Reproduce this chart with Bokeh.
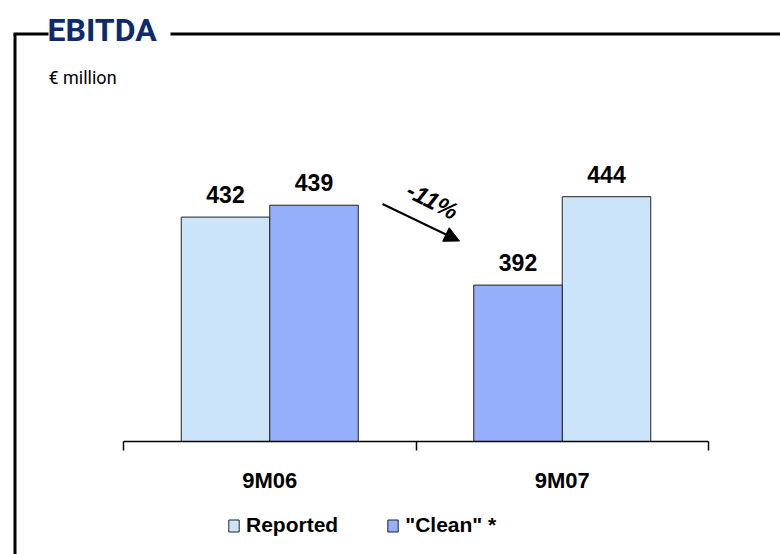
from bokeh.plotting import figure
from bokeh.models import (Range1d, LinearAxis, FixedTicker, ColumnDataSource, LabelSet,
                          Label, Arrow, NormalHead, Legend, LegendItem)
from bokeh.core.properties import value
from bokeh.embed import file_html
from bokeh.resources import INLINE

# ---------------- data ----------------
categories = ["9M06", "9M07"]
reported = [432, 444]
clean = [439, 392]
reported_side = [-1, 1]   # position of the bar inside its group (-1 left, +1 right)
clean_side = [1, -1]
series_names = ["Reported", '"Clean" *']
title_text = "EBITDA"
unit_text = "€ million"
change_text = "-11%"

# ---------------- layout ----------------
W, H = 780, 554
AX_L, AX_R, AX_Y = 123, 708, 441      # axis position in pixels
Y_MIN = 300
PX_PER_UNIT = 1.70
n = len(categories)
cat_px = (AX_R - AX_L) / n
BAR_W = 88.5 / cat_px
OFF = BAR_W / 2

FONT = "Liberation Sans"
HEAD_FONT = "Roboto"
LIGHT = "#cce4fa"
DARK = "#96affa"
NAVY = "#0d2b6b"


def X(px):
    return (px - AX_L) / cat_px


def Y(py):
    return Y_MIN + (AX_Y - py) / PX_PER_UNIT


p = figure(width=W, height=H, x_range=Range1d(X(0), X(W)), y_range=Range1d(Y(H), Y(0)),
           output_backend="svg", toolbar_location=None,
           x_axis_location=None, y_axis_location=None, min_border=0)
p.outline_line_color = None
p.xgrid.visible = False
p.ygrid.visible = False
p.background_fill_color = "white"
p.border_fill_color = "white"

src_rep = ColumnDataSource(dict(
    x=[i + 0.5 + s * OFF for i, s in enumerate(reported_side)],
    top=reported, txt=[str(v) for v in reported]))
src_cln = ColumnDataSource(dict(
    x=[i + 0.5 + s * OFF for i, s in enumerate(clean_side)],
    top=clean, txt=[str(v) for v in clean]))

r_rep = p.vbar(x="x", top="top", bottom=Y_MIN, width=BAR_W, source=src_rep,
               fill_color=LIGHT, line_color="#222222", line_width=1)
r_cln = p.vbar(x="x", top="top", bottom=Y_MIN, width=BAR_W, source=src_cln,
               fill_color=DARK, line_color="#222222", line_width=1)

for src in (src_rep, src_cln):
    p.add_layout(LabelSet(x="x", y="top", text="txt", source=src, y_offset=14,
                          text_align="center", text_baseline="alphabetic",
                          text_font=value(FONT), text_font_style="bold",
                          text_font_size="23px", text_color="black"))

# x axis (fixed at the bar base) with boundary ticks
ax = LinearAxis(ticker=FixedTicker(ticks=[i + 0.5 for i in range(n)],
                                   minor_ticks=list(range(n + 1))),
                major_label_overrides={i + 0.5: c for i, c in enumerate(categories)},
                bounds=(0, n), fixed_location=Y_MIN)
ax.axis_line_color = "black"
ax.axis_line_width = 1.5
ax.major_tick_out = 0
ax.major_tick_in = 0
ax.major_tick_line_color = None
ax.minor_tick_out = 9
ax.minor_tick_in = 0
ax.minor_tick_line_color = "black"
ax.minor_tick_line_width = 1.5
ax.major_label_standoff = 17
ax.major_label_text_font = FONT
ax.major_label_text_font_style = "bold"
ax.major_label_text_font_size = "22px"
ax.major_label_text_color = "black"
p.add_layout(ax, "below")

# change arrow
p.add_layout(Arrow(x_start=X(382), y_start=Y(203.5), x_end=X(459), y_end=Y(240.5),
                   line_width=2, line_color="black",
                   end=NormalHead(size=15, fill_color="black", line_color="black")))
p.add_layout(Label(x=X(432), y=Y(200), text=change_text, angle=-27, angle_units="deg",
                   text_align="center", text_baseline="middle",
                   text_font=FONT, text_font_style="bold italic",
                   text_font_size="24px", text_color="black"))

# frame lines around the panel
for (x0, y0, x1, y1) in [(14.5, 33.5, 14.5, 570), (13, 33.5, 48, 33.5), (170, 33.5, 800, 33.5)]:
    p.add_layout(Arrow(x_start=X(x0), y_start=Y(y0), x_end=X(x1), y_end=Y(y1),
                       start=None, end=None, line_width=3, line_color="black"))

p.add_layout(Label(x=X(47), y=Y(29.5), text=title_text, text_align="left",
                   text_baseline="alphabetic", text_font=HEAD_FONT,
                   text_font_style="bold", text_font_size="32px", text_color=NAVY))
p.add_layout(Label(x=X(48), y=Y(77), text=unit_text, text_align="left",
                   text_baseline="alphabetic", text_font=HEAD_FONT,
                   text_font_size="18px", text_color="black"))

legend = Legend(items=[LegendItem(label=series_names[0], renderers=[r_rep]),
                       LegendItem(label=series_names[1], renderers=[r_cln])],
                location=(227, 17), orientation="horizontal")
legend.border_line_color = None
legend.background_fill_alpha = 0
legend.padding = 0
legend.margin = 0
legend.spacing = 48
legend.glyph_width = 13
legend.glyph_height = 15
legend.label_standoff = 6
legend.label_text_font = FONT
legend.label_text_font_style = "bold"
legend.label_text_font_size = "21px"
legend.label_text_color = "black"
p.add_layout(legend)

open("out.html", "w").write(file_html(p, INLINE))
